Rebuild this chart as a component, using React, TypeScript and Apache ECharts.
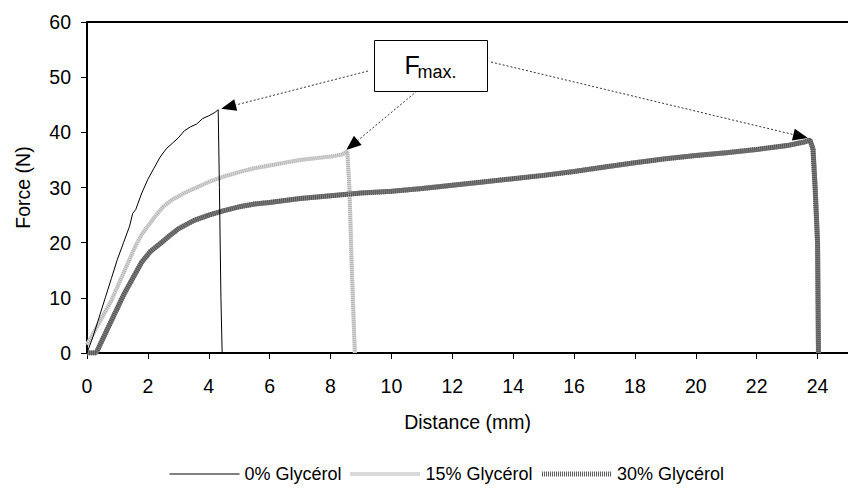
import React, { useEffect, useRef } from "react";
import * as echarts from "echarts";

const FONT = "'Liberation Sans', Arial, sans-serif";

// Distance (mm) and Force (N)
const distance0 = [0, 0.2, 0.4, 0.6, 0.8, 1.0, 1.2, 1.4, 1.5, 1.6, 1.8, 2.0, 2.2, 2.4, 2.6, 2.8, 3.0, 3.2, 3.4, 3.6, 3.8, 4.0, 4.2, 4.31, 4.35, 4.4, 4.44];
const force0 = [0, 3, 6.5, 10, 13.5, 17, 20, 23, 25.3, 26, 29, 31.5, 33.5, 35.5, 37, 38, 39, 40.3, 41, 41.5, 42.5, 43, 43.6, 44.1, 30, 10, 0];

const distance15 = [0, 0.2, 0.4, 0.6, 0.8, 1.0, 1.2, 1.4, 1.6, 1.8, 2.0, 2.2, 2.5, 2.8, 3.2, 3.6, 4.0, 4.5, 5.0, 5.5, 6.0, 6.5, 7.0, 7.5, 8.0, 8.4, 8.55, 8.62, 8.7, 8.8];
const force15 = [1.5, 3.5, 5.5, 7.5, 9.5, 12, 14.5, 17, 19.5, 21.5, 23, 24.5, 26.5, 27.8, 29, 30, 31, 32, 32.8, 33.5, 34, 34.5, 35, 35.3, 35.6, 36, 36.6, 30, 15, 0];

const distance30 = [0, 0.3, 0.6, 0.9, 1.2, 1.5, 1.8, 2.1, 2.4, 2.7, 3.0, 3.5, 4.0, 4.5, 5.0, 5.5, 6.0, 7.0, 8.0, 9.0, 10, 11, 12, 13, 14, 15, 16, 17, 18, 19, 20, 21, 22, 23, 23.6, 23.75, 23.85, 23.92, 24.0, 24.03];
const force30 = [0, 0, 3.5, 7, 10.5, 13.5, 16.5, 18.5, 19.8, 21.2, 22.5, 24, 25, 25.8, 26.5, 27, 27.3, 28, 28.5, 29, 29.3, 29.8, 30.4, 31, 31.6, 32.2, 32.9, 33.7, 34.5, 35.2, 35.8, 36.3, 36.9, 37.6, 38.3, 38.6, 37, 30, 20, 0];

const seriesNames = ["0% Glycérol", "15% Glycérol", "30% Glycérol"];
const yTicks = { min: 0, max: 60, interval: 10 };
const xTicks = { min: 0, max: 25, interval: 2 };
const annotationLabel = { main: "F", sub: "max." };

const zip = (xs: number[], ys: number[]) => xs.map((x, i) => [x, ys[i]]);
const peakIndex = (ys: number[]) => ys.indexOf(Math.max(...ys));

function arrow(sx: number, sy: number, tx: number, ty: number) {
  const dx = tx - sx, dy = ty - sy;
  const L = Math.hypot(dx, dy);
  const ux = dx / L, uy = dy / L;
  const hl = 15, hw = 6;
  const bx = tx - ux * hl, by = ty - uy * hl;
  const nx = -uy, ny = ux;
  return [
    { type: "line", silent: true, shape: { x1: sx, y1: sy, x2: bx, y2: by }, style: { stroke: "#333", lineWidth: 1, lineDash: [2, 2] } },
    { type: "polygon", silent: true, shape: { points: [[tx, ty], [bx + nx * hw, by + ny * hw], [bx - nx * hw, by - ny * hw]] }, style: { fill: "#000" } },
  ];
}

export default function App() {
  const ref = useRef<HTMLDivElement>(null);
  useEffect(() => {
    if (!ref.current) return;
    const chart = echarts.init(ref.current, undefined, { renderer: "svg" });
    const axisLineStyle = { color: "#000", width: 2 };
    const lineWidths = [1, 4, 5];
    const option: any = {
      animation: false,
      textStyle: { fontFamily: FONT },
      grid: { left: 87, top: 22, right: -11, bottom: 139, containLabel: false },
      xAxis: [
        {
          type: "value", min: xTicks.min, max: xTicks.max, interval: xTicks.interval,
          axisLine: { show: true, lineStyle: axisLineStyle },
          axisTick: { show: true, length: 6, lineStyle: { color: "#000", width: 1 } },
          axisLabel: { color: "#000", fontSize: 19.5, margin: 23, showMaxLabel: false, fontFamily: FONT },
          splitLine: { show: false },
          name: "Distance (mm)", nameLocation: "middle", nameGap: 59,
          nameTextStyle: { color: "#000", fontSize: 19.5, fontFamily: FONT },
        },
        {
          type: "value", position: "top", min: xTicks.min, max: xTicks.max,
          axisLine: { show: true, lineStyle: axisLineStyle },
          axisTick: { show: false }, axisLabel: { show: false }, splitLine: { show: false },
        },
      ],
      yAxis: {
        type: "value", min: yTicks.min, max: yTicks.max, interval: yTicks.interval,
        axisLine: { show: true, lineStyle: axisLineStyle },
        axisTick: { show: true, length: 6, lineStyle: { color: "#000", width: 1 } },
        axisLabel: { color: "#000", fontSize: 19.5, margin: 16, fontFamily: FONT },
        splitLine: { show: false },
        name: "Force (N)", nameLocation: "middle", nameGap: 54,
        nameTextStyle: { color: "#000", fontSize: 19.5, fontFamily: FONT },
      },
      legend: {
        data: seriesNames.map((name, i) => ({ name, lineStyle: { width: lineWidths[i] } })),
        left: 164, top: 460,
        itemWidth: 70, itemHeight: 14, itemGap: 7,
        itemStyle: { opacity: 0 },
        textStyle: { color: "#000", fontSize: 18, fontFamily: FONT },
      },
      series: [
        {
          name: seriesNames[0], type: "line", data: zip(distance0, force0),
          symbol: "none", showSymbol: false, color: "#000",
          lineStyle: { color: "#000", width: lineWidths[0] }, z: 5,
        },
        {
          type: "line", data: zip(distance15, force15), symbol: "none", showSymbol: false,
          color: "#dcdcdc", lineStyle: { color: "#dcdcdc", width: lineWidths[1] }, silent: true, z: 2,
        },
        {
          name: seriesNames[1], type: "line", data: zip(distance15, force15),
          symbol: "none", showSymbol: false, color: "#b4b4b4",
          lineStyle: { color: "#b4b4b4", width: lineWidths[1], type: [1, 1] }, z: 3,
        },
        {
          type: "line", data: zip(distance30, force30), symbol: "none", showSymbol: false,
          color: "#808080", lineStyle: { color: "#808080", width: lineWidths[2] }, silent: true, z: 2,
        },
        {
          name: seriesNames[2], type: "line", data: zip(distance30, force30),
          symbol: "none", showSymbol: false, color: "#555555",
          lineStyle: { color: "#555555", width: lineWidths[2], type: [1, 1] }, z: 3,
        },
      ],
    };
    chart.setOption(option);

    const px = (x: number, y: number) => chart.convertToPixel({ xAxisIndex: 0, yAxisIndex: 0 }, [x, y]) as number[];
    const i0 = peakIndex(force0), i15 = peakIndex(force15), i30 = peakIndex(force30);
    const p0 = px(distance0[i0], force0[i0]);
    const p15 = px(distance15[i15], force15[i15]);
    const p30 = px(distance30[i30], force30[i30]);

    const box = { x: 374, y: 40, w: 113, h: 51 };
    chart.setOption({
      graphic: [
        ...arrow(368, 71, p0[0] + 3, p0[1] - 1),
        ...arrow(417, 91, p15[0] - 1, p15[1] - 1),
        ...arrow(491, 62, p30[0] - 2, p30[1] - 2),
        { type: "rect", shape: { x: box.x + 0.5, y: box.y + 0.5, width: box.w, height: box.h }, style: { fill: "#fff", stroke: "#000", lineWidth: 1 }, z: 10 },
        { type: "text", x: 404.5, y: 65, style: { text: annotationLabel.main, fontSize: 25, fontFamily: FONT, fill: "#000", align: "left", verticalAlign: "middle" }, z: 11 },
        { type: "text", x: 417.5, y: 71.5, style: { text: annotationLabel.sub, fontSize: 18, fontFamily: FONT, fill: "#000", align: "left", verticalAlign: "middle" }, z: 11 },
      ],
    });
    return () => chart.dispose();
  }, []);
  return <div ref={ref} style={{ position: "fixed", left: 0, top: 0, width: 848, height: 492, background: "#fff" }} />;
}
